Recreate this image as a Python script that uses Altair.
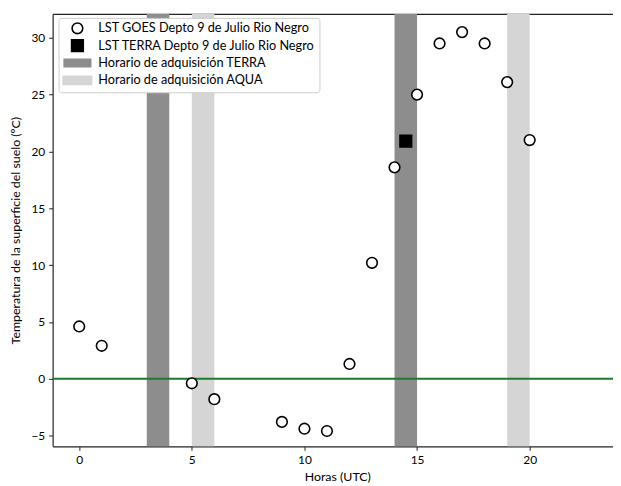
import altair as alt
import pandas as pd

# --- data ---
goes_hours = [0, 1, 5, 6, 9, 10, 11, 12, 13, 14, 15, 16, 17, 18, 19, 20]
goes_lst = [4.6, 2.9, -0.4, -1.8, -3.8, -4.4, -4.6, 1.3, 10.2, 18.6, 25.0, 29.5, 30.5, 29.5, 26.1, 21.0]
terra_hours = [14.5]
terra_lst = [20.9]
band_start = [3, 14, 5, 19]
band_end = [4, 15, 6, 20]
band_name = ["Horario de adquisición TERRA", "Horario de adquisición TERRA",
             "Horario de adquisición AQUA", "Horario de adquisición AQUA"]

S_GOES = "LST GOES Depto 9 de Julio Rio Negro"
S_TERRA = "LST TERRA Depto 9 de Julio Rio Negro"
S_BT = "Horario de adquisición TERRA"
S_BA = "Horario de adquisición AQUA"
order = [S_GOES, S_TERRA, S_BT, S_BA]

pts = pd.DataFrame({
    "hora": goes_hours + terra_hours,
    "lst": goes_lst + terra_lst,
    "serie": [S_GOES] * len(goes_hours) + [S_TERRA] * len(terra_hours),
})
bands = pd.DataFrame({"x0": band_start, "x1": band_end, "serie": band_name})
zero = pd.DataFrame({"y": [0]})

FONT = "Lato"
XDOM = [-1.18, 23.7]
YDOM = [-5.95, 32.1]
rect_path = "M-2.1,-0.6H2.1V0.6H-2.1Z"

xscale = alt.Scale(domain=XDOM, nice=False, zero=False)
yscale = alt.Scale(domain=YDOM, nice=False, zero=False)

fill_scale = alt.Scale(domain=order, range=["white", "black", "#8d8d8d", "#d5d5d5"])

band_layer = alt.Chart(bands).mark_rect().encode(
    x=alt.X("x0:Q", scale=xscale,
            axis=alt.Axis(orient="top", labels=False, ticks=False, title=None,
                          grid=False, domain=True, domainColor="#222", domainWidth=1.2)),
    x2="x1:Q",
    fill=alt.Fill("serie:N", scale=fill_scale),
)

zero_layer = alt.Chart(zero).mark_rule(color="#1e7a2a", strokeWidth=2).encode(
    y=alt.Y("y:Q", scale=yscale)
)

point_layer = alt.Chart(pts).mark_point(filled=False, strokeWidth=1.6, opacity=1).encode(
    x=alt.X("hora:Q", scale=xscale,
            axis=alt.Axis(title="Horas (UTC)", values=[0, 5, 10, 15, 20], grid=False,
                          titleX=287)),
    y=alt.Y("lst:Q", scale=yscale,
            axis=alt.Axis(title="Temperatura de la superficie del suelo (ºC)",
                          values=[-5, 0, 5, 10, 15, 20, 25, 30], grid=False)),
    shape=alt.Shape("serie:N", scale=alt.Scale(domain=order,
                    range=["circle", "square", rect_path, rect_path]),
                    legend=alt.Legend(title=None, orient="none", legendX=6, legendY=4)),
    fill=alt.Fill("serie:N", scale=fill_scale),
    stroke=alt.Stroke("serie:N", scale=alt.Scale(domain=order,
                      range=["black", "black", "#8d8d8d", "#d5d5d5"])),
    size=alt.Size("serie:N", scale=alt.Scale(domain=order, range=[115, 185, 121, 121])),
)

chart = alt.layer(band_layer, zero_layer, point_layer).resolve_axis(
    x="independent"
).properties(
    width=565, height=436,
    autosize=alt.AutoSizeParams(type="none"),
    padding={"left": 45, "top": 4, "right": 0, "bottom": 38},
).configure_view(stroke=None).configure_axis(
    labelFont=FONT, titleFont=FONT, labelFontSize=12, titleFontSize=12.5,
    labelColor="black", titleColor="black", tickColor="#222", domainColor="#222",
    domainWidth=1.2, tickSize=4, titleFontWeight="normal", labelPadding=4,
).configure_axisY(titlePadding=8).configure_axisX(titlePadding=5).configure_legend(
    labelFont=FONT, labelFontSize=12.8, labelColor="black", fillColor="white",
    strokeColor="#cccccc", cornerRadius=3, padding=4, rowPadding=-3.2, gridAlign="all",
    symbolOffset=7, labelOffset=13, symbolStrokeWidth=1.6, labelLimit=400,
)

chart.save("out.html", embed_options={"renderer": "svg", "actions": False})
